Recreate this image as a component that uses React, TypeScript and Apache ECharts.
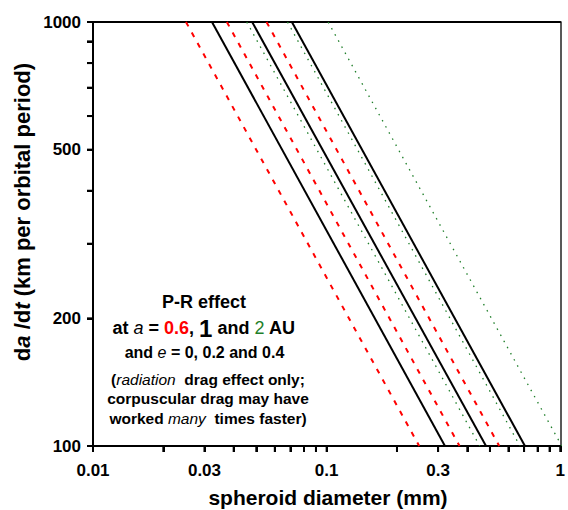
import React, { useEffect, useRef } from "react";
import * as echarts from "echarts";

const FONT = '"Liberation Sans", Arial, Helvetica, sans-serif';

// Diameters (mm) where each line crosses da/dt = 1000 and da/dt = 100
const blackTop = [0.0323, 0.048, 0.071];
const blackBottom = [0.321, 0.481, 0.706];
const redTop = [0.025, 0.0374, 0.0553];
const redBottom = [0.249, 0.3705, 0.548];
const greenTop = [0.0455, 0.068, 0.1015];
const greenBottom = [0.452, 0.672, 1.015];
const rateTop = 1000;
const rateBottom = 100;

const xTickValues = [
  0.01, 0.02, 0.03, 0.04, 0.05, 0.06, 0.07, 0.08, 0.09,
  0.1, 0.2, 0.3, 0.4, 0.5, 0.6, 0.7, 0.8, 0.9, 1,
];
const xLabelValues = [0.01, 0.03, 0.1, 0.3, 1];
const yTickValues = [100, 200, 300, 400, 500, 600, 700, 800, 900, 1000];
const yLabelValues = [100, 200, 500, 1000];

const X_MIN = 0.01;
const Y_MIN = 100;
const TICK_LEN = 6;

function makeLine(top: number, bottom: number, style: any, name: string) {
  return {
    type: "line",
    name,
    showSymbol: false,
    symbol: "none",
    clip: true,
    silent: true,
    data: [
      [top, rateTop],
      [bottom, rateBottom],
    ],
    lineStyle: style,
  };
}

export default function App() {
  const ref = useRef<HTMLDivElement>(null);
  useEffect(() => {
    if (!ref.current) return;
    const chart = echarts.init(ref.current, null, { renderer: "svg" });
    const series: any[] = [];
    greenTop.forEach((t, i) =>
      series.push(
        makeLine(t, greenBottom[i], { color: "#1f7f2a", width: 1.3, type: [1.5, 5.5] }, "a=2 AU")
      )
    );
    redTop.forEach((t, i) =>
      series.push(
        makeLine(t, redBottom[i], { color: "#ff0000", width: 2, type: [5, 7] }, "a=0.6 AU")
      )
    );
    blackTop.forEach((t, i) =>
      series.push(makeLine(t, blackBottom[i], { color: "#000", width: 2, type: "solid" }, "a=1 AU"))
    );
    series.push({
      type: "custom",
      clip: false,
      z: 10,
      data: xTickValues.map((v) => [v, Y_MIN]),
      renderItem: (params: any, api: any) => {
        const p = api.coord([api.value(0), api.value(1)]);
        return {
          type: "line",
          shape: { x1: p[0], y1: p[1], x2: p[0], y2: p[1] + TICK_LEN },
          style: { stroke: "#000", lineWidth: 2 },
        };
      },
    });
    series.push({
      type: "custom",
      clip: false,
      z: 10,
      data: yTickValues.map((v) => [X_MIN, v]),
      renderItem: (params: any, api: any) => {
        const p = api.coord([api.value(0), api.value(1)]);
        return {
          type: "line",
          shape: { x1: p[0], y1: p[1], x2: p[0] - TICK_LEN, y2: p[1] },
          style: { stroke: "#000", lineWidth: 2 },
        };
      },
    });

    const labelStyle = {
      color: "#000",
      fontFamily: FONT,
      fontWeight: "bold",
      fontSize: 17,
    };

    chart.setOption({
      animation: false,
      backgroundColor: "#fff",
      grid: { left: 93, right: 4, top: 22, bottom: 64, containLabel: false },
      xAxis: [
        {
          type: "log",
          logBase: 10,
          min: 0.01,
          max: 1,
          axisLine: { show: true, onZero: false, lineStyle: { color: "#000", width: 2 } },
          axisTick: {
            show: true,
            inside: false,
            length: 6,
            customValues: xTickValues,
            lineStyle: { color: "#000", width: 2 },
          },
          axisLabel: {
            ...labelStyle,
            margin: 16,
            customValues: xLabelValues,
            formatter: (v: number) => String(v),
          },
          splitLine: { show: false },
          minorTick: { show: false },
        },
        {
          type: "log",
          logBase: 10,
          min: 0.01,
          max: 1,
          position: "top",
          axisLine: { show: true, onZero: false, lineStyle: { color: "#000", width: 2 } },
          axisTick: { show: false },
          axisLabel: { show: false },
          splitLine: { show: false },
        },
      ],
      yAxis: [
        {
          type: "log",
          logBase: 10,
          min: 100,
          max: 1000,
          axisLine: { show: true, onZero: false, lineStyle: { color: "#000", width: 2 } },
          axisTick: {
            show: true,
            inside: false,
            length: 6,
            customValues: yTickValues,
            lineStyle: { color: "#000", width: 2 },
          },
          axisLabel: {
            ...labelStyle,
            margin: 12,
            customValues: yLabelValues,
            formatter: (v: number) => String(v),
          },
          splitLine: { show: false },
        },
        {
          type: "log",
          logBase: 10,
          min: 100,
          max: 1000,
          position: "right",
          axisLine: { show: true, onZero: false, lineStyle: { color: "#222", width: 1.5 } },
          axisTick: { show: false },
          axisLabel: { show: false },
          splitLine: { show: false },
        },
      ],
      series,
      graphic: [
        {
          type: "text",
          x: 328,
          y: 497,
          style: {
            text: "spheroid diameter (mm)",
            font: `bold 21px ${FONT}`,
            fill: "#000",
            align: "center",
            verticalAlign: "middle",
          },
        },
        {
          type: "text",
          x: 22,
          y: 212,
          rotation: Math.PI / 2,
          style: {
            text: "{n|d}{i|a}{n| /d}{i|t}{n| (km per orbital period)}",
            align: "center",
            verticalAlign: "middle",
            rich: {
              n: { font: `bold 22px ${FONT}`, fill: "#000" },
              i: { font: `italic bold 22px ${FONT}`, fill: "#000" },
            },
          },
        },
        {
          type: "text",
          x: 204,
          y: 301.5,
          style: {
            text: "P-R effect",
            font: `bold 18px ${FONT}`,
            fill: "#000",
            align: "center",
            verticalAlign: "middle",
          },
        },
        {
          type: "text",
          x: 204,
          y: 328,
          style: {
            text: "{b|at }{i|a}{b| = }{r|0.6}{b|, }{big|1}{b| and }{g|2}{b| AU}",
            align: "center",
            verticalAlign: "middle",
            rich: {
              b: { font: `bold 18px ${FONT}`, fill: "#000" },
              i: { font: `italic 18px ${FONT}`, fill: "#000" },
              r: { font: `bold 18px ${FONT}`, fill: "#ff0000" },
              big: { font: `bold 24px ${FONT}`, fill: "#000" },
              g: { font: `18px ${FONT}`, fill: "#1f7f2a" },
            },
          },
        },
        {
          type: "text",
          x: 204.5,
          y: 352,
          style: {
            text: "{b|and }{i|e}{b| = 0, 0.2 and 0.4}",
            align: "center",
            verticalAlign: "middle",
            rich: {
              b: { font: `bold 16px ${FONT}`, fill: "#000" },
              i: { font: `italic 16px ${FONT}`, fill: "#000" },
            },
          },
        },
        {
          type: "text",
          x: 208,
          y: 379,
          style: {
            text: "{b|(}{i|radiation}{b|  drag effect only;}",
            align: "center",
            verticalAlign: "middle",
            rich: {
              b: { font: `bold 15.5px ${FONT}`, fill: "#000" },
              i: { font: `italic 15.5px ${FONT}`, fill: "#000" },
            },
          },
        },
        {
          type: "text",
          x: 208,
          y: 398.5,
          style: {
            text: "corpuscular drag may have",
            font: `bold 15.5px ${FONT}`,
            fill: "#000",
            align: "center",
            verticalAlign: "middle",
          },
        },
        {
          type: "text",
          x: 208,
          y: 418,
          style: {
            text: "{b|worked }{i|many}{b|  times faster)}",
            align: "center",
            verticalAlign: "middle",
            rich: {
              b: { font: `bold 15.5px ${FONT}`, fill: "#000" },
              i: { font: `italic 15.5px ${FONT}`, fill: "#000" },
            },
          },
        },
      ],
    });
    return () => chart.dispose();
  }, []);
  return (
    <div
      ref={ref}
      style={{ position: "fixed", left: 0, top: 0, width: 568, height: 510, background: "#fff" }}
    />
  );
}
